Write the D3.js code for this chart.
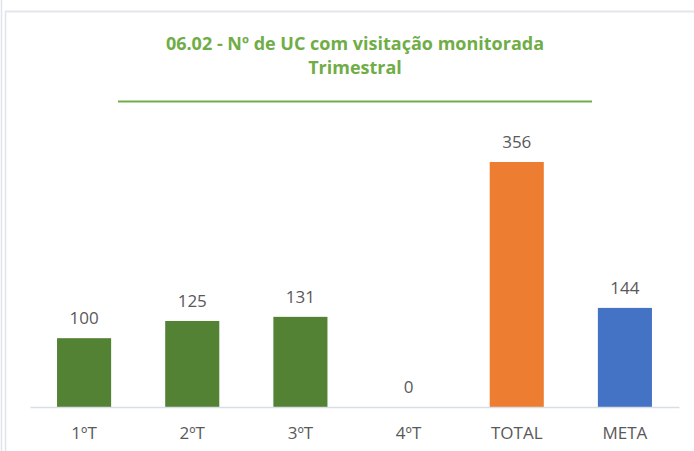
<!DOCTYPE html>
<html>
<head>
<meta charset="utf-8">
<script src="https://cdn.jsdelivr.net/npm/d3@7"></script>
<style>
  body { margin: 0; background: #fff; }
  svg { display: block; font-family: "Open Sans", sans-serif; }
</style>
</head>
<body>
<div id="chart"></div>
<script>
const width = 694;
const height = 451;

// dados do gráfico
const categories = ["1ºT", "2ºT", "3ºT", "4ºT", "TOTAL", "META"];
const values = [100, 125, 131, 0, 356, 144];
const barColors = ["#548235", "#548235", "#548235", "#548235", "#ED7D31", "#4472C4"];
const titleLines = ["06.02 - Nº de UC com visitação monitorada", "Trimestral"];

const baseY = 407;

const svg = d3
  .select("#chart")
  .append("svg")
  .attr("width", width)
  .attr("height", height);

// moldura
svg.append("line").attr("x1", 1.5).attr("x2", 1.5).attr("y1", 0).attr("y2", height)
  .attr("stroke", "#dfe3ea").attr("stroke-width", 1.5);
svg.append("line").attr("x1", 5.5).attr("x2", 5.5).attr("y1", 11).attr("y2", height)
  .attr("stroke", "#dfe3ea").attr("stroke-width", 1.5);
svg.append("line").attr("x1", 5).attr("x2", width).attr("y1", 11.5).attr("y2", 11.5)
  .attr("stroke", "#e3e6ee").attr("stroke-width", 2);

// título
const title = svg.append("text")
  .attr("text-anchor", "middle")
  .attr("fill", "#70AD47")
  .attr("font-weight", "bold")
  .attr("font-size", 18);
title.selectAll("tspan")
  .data(titleLines)
  .enter()
  .append("tspan")
  .attr("x", 355)
  .attr("y", (d, i) => 50 + i * 24)
  .text((d) => d);

svg.append("line").attr("x1", 118).attr("x2", 592).attr("y1", 101.5).attr("y2", 101.5)
  .attr("stroke", "#70AD47").attr("stroke-width", 2);

// escalas
const xScale = d3.scaleBand()
  .domain(categories)
  .range([30, 679])
  .paddingInner(0.5)
  .paddingOuter(0.25);

const yScale = d3.scaleLinear()
  .domain([0, 356])
  .range([baseY, 162]);

// barras
svg.selectAll(".bar")
  .data(values)
  .enter()
  .append("rect")
  .attr("class", "bar")
  .attr("x", (d, i) => xScale(categories[i]))
  .attr("y", (d) => yScale(d))
  .attr("width", xScale.bandwidth())
  .attr("height", (d) => baseY - yScale(d))
  .attr("fill", (d, i) => barColors[i]);

// rótulos de valores
svg.selectAll(".val")
  .data(values)
  .enter()
  .append("text")
  .attr("class", "val")
  .attr("x", (d, i) => xScale(categories[i]) + xScale.bandwidth() / 2)
  .attr("y", (d) => yScale(d) - 14)
  .attr("text-anchor", "middle")
  .attr("font-size", 17)
  .attr("fill", "#595959")
  .text((d) => d);

// eixo x
const xAxis = d3.axisBottom(xScale).tickSize(0).tickPadding(20);
const xAxisG = svg.append("g")
  .attr("transform", "translate(0," + baseY + ")")
  .call(xAxis);
xAxisG.select(".domain").attr("stroke", "#d9dde5").attr("stroke-width", 1.5);
xAxisG.selectAll("text")
  .attr("font-size", 17)
  .attr("font-family", "Open Sans, sans-serif")
  .attr("fill", "#595959");
</script>
</body>
</html>
